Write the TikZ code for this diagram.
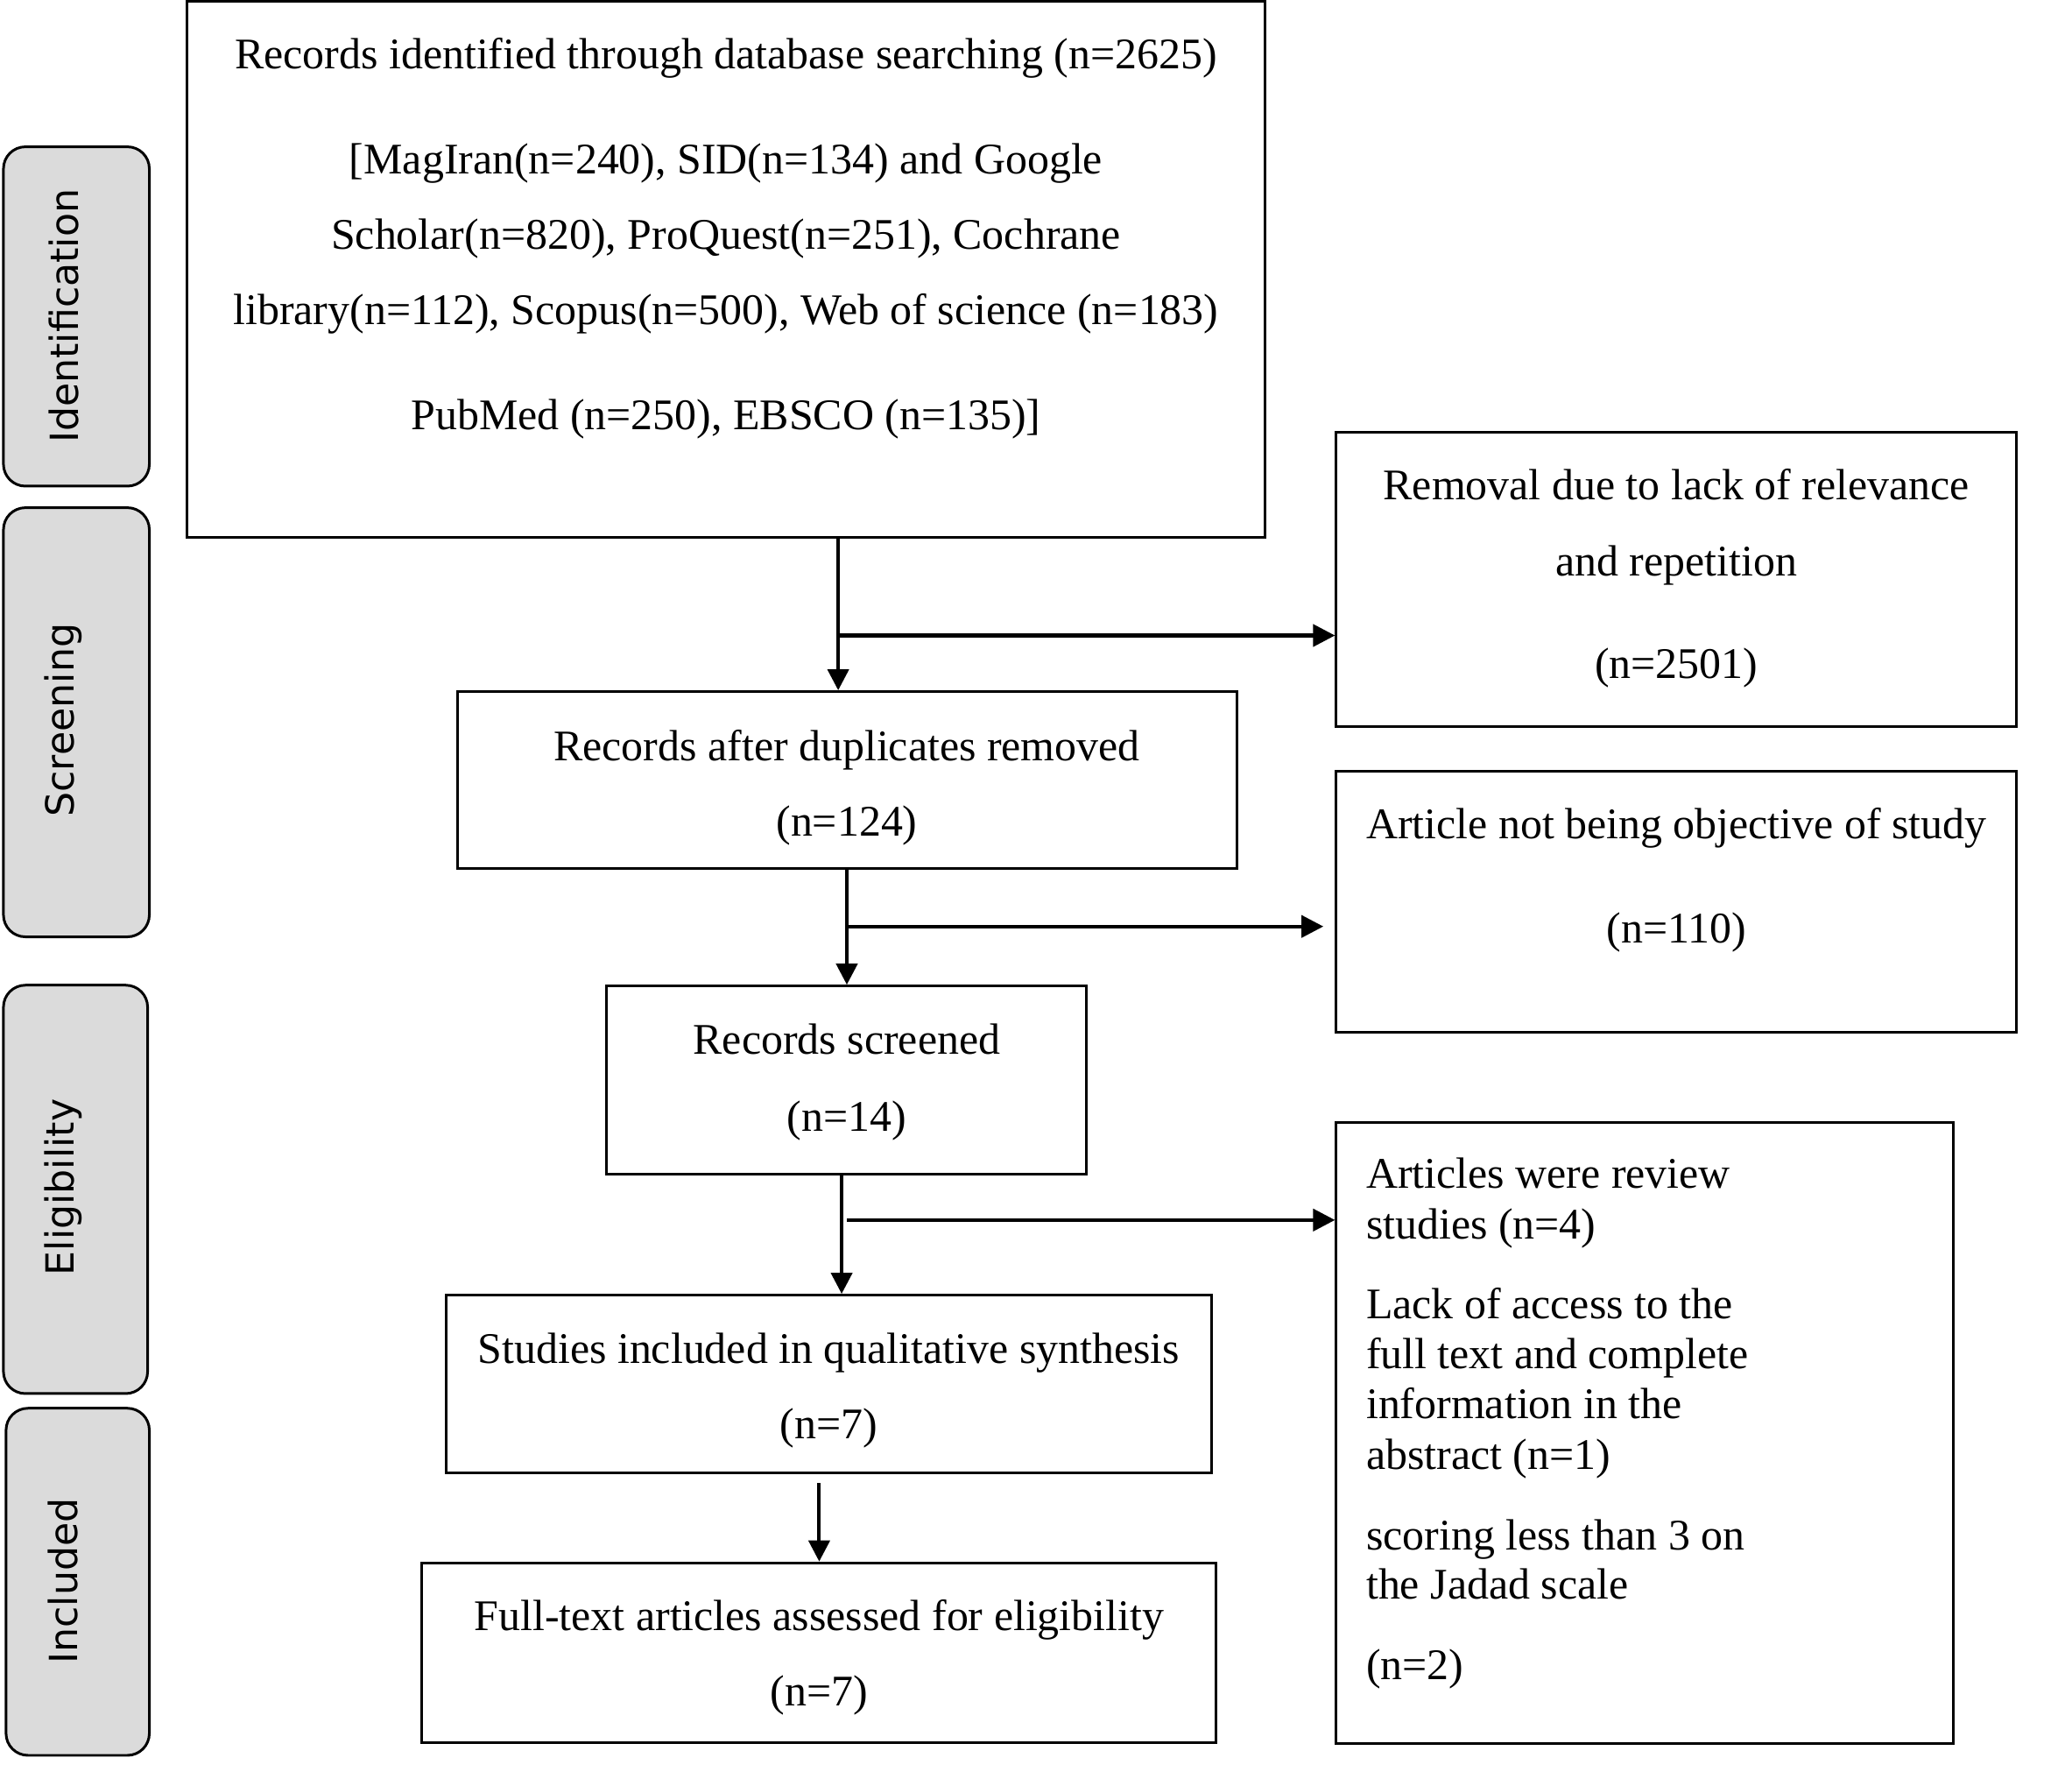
\documentclass[tikz,border=0pt]{standalone}
\usepackage{fontspec}
\setmainfont{Liberation Serif}
\newfontfamily\sidefont{DejaVu Sans}
\usetikzlibrary{arrows.meta,fit}
\definecolor{sidegray}{RGB}{219,219,219}
\begin{document}
\begin{tikzpicture}[x=0.009857cm,y=-0.009857cm,
  box/.style={draw, line width=0.85pt, inner sep=0pt},
  side/.style={draw, line width=0.85pt, fill=sidegray, rounded corners=0.25cm, inner sep=0pt},
  txt/.style={font=\fontsize{14.2}{17}\selectfont, inner sep=0pt, anchor=base},
  ltxt/.style={txt, anchor=base west},
  stxt/.style={font=\sidefont\fontsize{12.6}{14}\selectfont, rotate=90, inner sep=0pt},
  arr/.style={line width=1.15pt, -{Triangle[length=0.24cm,width=0.24cm]}},
  brl/.style={line width=1.2pt, -{Triangle[length=0.25cm,width=0.25cm]}}]
\useasboundingbox (0,0) rectangle (2400.3,2067.6);

% side labels
\node[side, fit={(4,170) (173,563)}] (sid) {};
\node[side, fit={(4,588) (173,1085)}] (sscr) {};
\node[side, fit={(4,1141) (171,1614)}] (selg) {};
\node[side, fit={(7,1631) (173,2033)}] (sinc) {};
\node[stxt] (tid) at (74,366) {Identification};
\node[stxt] (tscr) at (73,834) {Screening};
\node[stxt] (telg) at (73,1375) {Eligibility};
\node[stxt] (tinc) at (73,1831) {Included};

% boxes
\node[box, fit={(217,2) (1465,622)}] (b1) {};
\node[box, fit={(1548,501) (2336,841)}] (r1) {};
\node[box, fit={(530,801) (1433,1006)}] (b2) {};
\node[box, fit={(1548,893) (2336,1196)}] (r2) {};
\node[box, fit={(703,1142) (1258,1360)}] (b3) {};
\node[box, fit={(1548,1300) (2263,2019)}] (r3) {};
\node[box, fit={(517,1500) (1404,1706)}] (b4) {};
\node[box, fit={(488,1810) (1409,2018)}] (b5) {};

% texts
\node[txt] (b1t1) at (841,80) {Records identified through database searching (n=2625)};
\node[txt] (b1t2) at (841,201) {[MagIran(n=240), SID(n=134) and Google};
\node[txt] (b1t3) at (841,289) {Scholar(n=820), ProQuest(n=251), Cochrane};
\node[txt] (b1t4) at (841,376) {library(n=112), Scopus(n=500), Web of science (n=183)};
\node[txt] (b1t5) at (841,498) {PubMed (n=250), EBSCO (n=135)]};

\node[txt] (r1t1) at (1942,579) {Removal due to lack of relevance};
\node[txt] (r1t2) at (1942,667) {and repetition};
\node[txt] (r1t3) at (1942,786) {(n=2501)};

\node[txt] (b2t1) at (981,881) {Records after duplicates removed};
\node[txt] (b2t2) at (981,968) {(n=124)};

\node[txt] (r2t1) at (1942,971) {Article not being objective of study};
\node[txt] (r2t2) at (1942,1092) {(n=110)};

\node[txt] (b3t1) at (981,1221) {Records screened};
\node[txt] (b3t2) at (981,1310) {(n=14)};

\node[ltxt] (r3t1) at (1582,1376) {Articles were review};
\node[ltxt] (r3t2) at (1582,1435) {studies (n=4)};
\node[ltxt] (r3t3) at (1582,1527) {Lack of access to the};
\node[ltxt] (r3t4) at (1582,1585) {full text and complete};
\node[ltxt] (r3t5) at (1582,1643) {information in the};
\node[ltxt] (r3t6) at (1582,1702) {abstract (n=1)};
\node[ltxt] (r3t7) at (1582,1795) {scoring less than 3 on};
\node[ltxt] (r3t8) at (1582,1852) {the Jadad scale};
\node[ltxt] (r3t9) at (1582,1945) {(n=2)};

\node[txt] (b4t1) at (960,1579) {Studies included in qualitative synthesis};
\node[txt] (b4t2) at (960,1666) {(n=7)};

\node[txt] (b5t1) at (949,1888) {Full-text articles assessed for eligibility};
\node[txt] (b5t2) at (949,1976) {(n=7)};

% connectors
\coordinate (x1) at (971,0);
\coordinate (x2) at (981,0);
\coordinate (x3) at (975,0);
\coordinate (x3b) at (981,0);
\coordinate (x4) at (949,0);
\coordinate (j1) at (0,736);
\coordinate (j2) at (0,1073);
\coordinate (j3) at (0,1413);
\coordinate (e2) at (1533,1073);
\coordinate (s4) at (949,1718);

\draw[arr] (b1.south -| x1) -- (b2.north -| x1);
\draw[brl] (x1 |- j1) -- (r1.west |- j1);
\draw[arr] (b2.south -| x2) -- (b3.north -| x2);
\draw[brl] (x2 |- j2) -- (e2);
\draw[arr] (b3.south -| x3) -- (b4.north -| x3);
\draw[brl] (x3b |- j3) -- (r3.west |- j3);
\draw[arr] (s4) -- (b5.north -| x4);
\end{tikzpicture}
\end{document}
